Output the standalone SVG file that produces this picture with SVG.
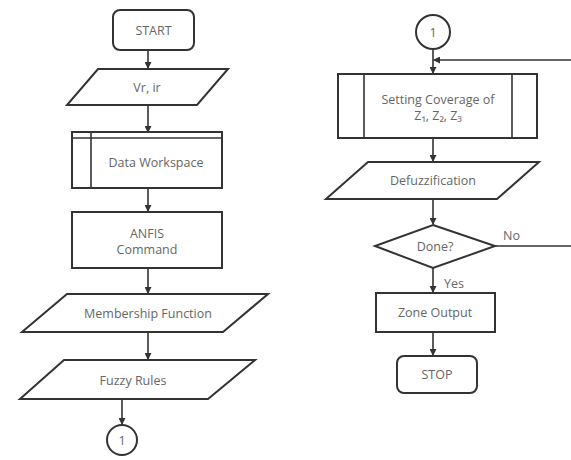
<svg xmlns="http://www.w3.org/2000/svg" width="571" height="460" viewBox="0 0 571 460">
<style>
.s{fill:#fff;stroke:#333;stroke-width:2}
.c{fill:none;stroke:#333;stroke-width:1.6}
.t{font-family:"Open Sans","Liberation Sans",sans-serif;font-size:12.5px;fill:#666;text-anchor:middle}
.l{font-family:"Open Sans","Liberation Sans",sans-serif;font-size:12.5px;fill:#666}
</style>
<defs>
<marker id="a" markerWidth="7" markerHeight="7" refX="6" refY="3.5" orient="auto" markerUnits="userSpaceOnUse">
<path d="M0,0 L7,3.5 L0,7 z" fill="#333"/>
</marker>
</defs>
<rect width="571" height="460" fill="#fff"/>
<g id="connectors">
<line class="c" x1="148" y1="50" x2="148" y2="68" marker-end="url(#a)"/>
<line class="c" x1="148" y1="105" x2="148" y2="132" marker-end="url(#a)"/>
<line class="c" x1="148" y1="188" x2="148" y2="211" marker-end="url(#a)"/>
<line class="c" x1="148" y1="268" x2="148" y2="293" marker-end="url(#a)"/>
<line class="c" x1="148" y1="332" x2="148" y2="359" marker-end="url(#a)"/>
<line class="c" x1="122" y1="399" x2="122" y2="424" marker-end="url(#a)"/>
<line class="c" x1="433" y1="49" x2="433" y2="73" marker-end="url(#a)"/>
<polyline class="c" points="495,246 571,246"/>
<line class="c" x1="571" y1="60" x2="434" y2="60" marker-end="url(#a)"/>
<line class="c" x1="433" y1="138" x2="433" y2="161" marker-end="url(#a)"/>
<line class="c" x1="433" y1="199" x2="433" y2="224" marker-end="url(#a)"/>
<line class="c" x1="433" y1="268" x2="433" y2="292" marker-end="url(#a)"/>
<line class="c" x1="433" y1="332" x2="433" y2="355" marker-end="url(#a)"/>
<text class="l" x="503" y="240">No</text>
<text class="l" x="444" y="288">Yes</text>
</g>
<g id="start">
<rect class="s" x="113" y="10" width="81" height="40" rx="7"/>
<text class="t" x="153.5" y="35">START</text>
</g>
<g id="input">
<polygon class="s" points="98,69 228,69 197,105 67,105"/>
<text class="t" x="147" y="92">Vr, ir</text>
</g>
<g id="data-workspace">
<rect class="s" x="72" y="132" width="150" height="56"/>
<line class="c" x1="72" y1="138" x2="222" y2="138"/>
<line class="c" x1="91" y1="132" x2="91" y2="188"/>
<text class="t" x="156" y="167">Data Workspace</text>
</g>
<g id="anfis">
<rect class="s" x="72" y="212" width="150" height="56"/>
<text class="t" x="147" y="238">ANFIS</text>
<text class="t" x="147" y="254">Command</text>
</g>
<g id="membership">
<polygon class="s" points="67,294 268,294 223,332 22,332"/>
<text class="t" x="148" y="318">Membership Function</text>
</g>
<g id="fuzzy">
<polygon class="s" points="64,360 255,360 208,399 20,399"/>
<text class="t" x="133" y="385">Fuzzy Rules</text>
</g>
<g id="conn-out">
<circle class="s" cx="122" cy="440" r="15"/>
<text class="t" x="122" y="445">1</text>
</g>
<g id="conn-in">
<circle class="s" cx="433" cy="32" r="17"/>
<text class="t" x="433" y="37">1</text>
</g>
<g id="setting">
<rect class="s" x="338" y="74" width="199" height="64"/>
<line class="c" x1="364" y1="74" x2="364" y2="138"/>
<line class="c" x1="512" y1="74" x2="512" y2="138"/>
<text class="t" x="438" y="104">Setting Coverage of</text>
<text class="t" x="438" y="120">Z₁, Z₂, Z₃</text>
</g>
<g id="defuzz">
<polygon class="s" points="368,162 539,162 497,199 326,199"/>
<text class="t" x="433" y="185">Defuzzification</text>
</g>
<g id="done">
<polygon class="s" points="433,225 495,246 433,268 375,246"/>
<text class="t" x="435" y="251">Done?</text>
</g>
<g id="zone">
<rect class="s" x="376" y="293" width="119" height="39"/>
<text class="t" x="435" y="317">Zone Output</text>
</g>
<g id="stop">
<rect class="s" x="397" y="356" width="80" height="37" rx="7"/>
<text class="t" x="437" y="379">STOP</text>
</g>
</svg>
